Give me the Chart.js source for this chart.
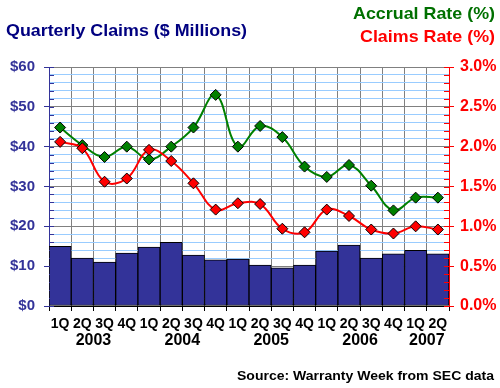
<!DOCTYPE html>
<html>
<head>
<meta charset="utf-8">
<script src="https://cdn.jsdelivr.net/npm/chart.js@4.4.0/dist/chart.umd.min.js"></script>
<style>
  html, body { margin: 0; padding: 0; background: #fff; }
  #wrap { position: relative; width: 500px; height: 388px; }
</style>
</head>
<body>
<div id="wrap"><canvas id="chart" width="500" height="388"></canvas></div>
<script>
// data
var quarters = ['1Q','2Q','3Q','4Q','1Q','2Q','3Q','4Q','1Q','2Q','3Q','4Q','1Q','2Q','3Q','4Q','1Q','2Q'];
var quarterYear = ['2003','2003','2003','2003','2004','2004','2004','2004','2005','2005','2005','2005','2006','2006','2006','2006','2007','2007'];
var years = ['2003','2004','2005','2006','2007'];
var claims = [15.0, 12.0, 11.0, 13.3, 14.8, 16.0, 12.8, 11.6, 11.8, 10.3, 9.6, 10.3, 13.8, 15.3, 12.0, 13.1, 14.0, 13.1];
var accrualRate = [2.24, 2.02, 1.87, 2.00, 1.84, 2.00, 2.24, 2.65, 2.00, 2.26, 2.12, 1.75, 1.62, 1.77, 1.51, 1.20, 1.36, 1.36];
var claimsRate = [2.06, 1.98, 1.56, 1.60, 1.96, 1.82, 1.54, 1.21, 1.29, 1.28, 0.97, 0.925, 1.21, 1.13, 0.96, 0.91, 1.00, 0.96];

var NAVY = '#333399';
var GREEN = '#008000';
var RED = '#FF0000';
var FONT = '"Liberation Sans", Arial, sans-serif';

// draws text squeezed/stretched to a given width
function fitText(ctx, txt, x, y, w, align) {
    var m = ctx.measureText(txt).width;
    var sx = w / m;
    ctx.save();
    ctx.textAlign = 'left';
    var left = align === 'right' ? x - w : x;
    ctx.translate(left, y);
    ctx.scale(sx, 1);
    ctx.fillText(txt, 0, 0);
    ctx.restore();
}

var textPlugin = {
    id: 'texts',
    afterDraw: function (chart) {
        var ctx = chart.ctx;
        var x = chart.scales.x;
        ctx.save();
        ctx.textBaseline = 'middle';

        // year labels under the quarters
        ctx.fillStyle = '#000';
        ctx.font = 'bold 16px ' + FONT;
        ctx.textAlign = 'center';
        years.forEach(function (yr) {
            var xs = [];
            quarterYear.forEach(function (q, i) {
                if (q === yr) xs.push(x.getPixelForValue(i));
            });
            var cx = (xs[0] + xs[xs.length - 1]) / 2;
            ctx.fillText(yr, cx, 341);
        });

        // titles
        ctx.fillStyle = '#000080';
        ctx.font = 'bold 17px ' + FONT;
        fitText(ctx, 'Quarterly Claims ($ Millions)', 6, 31, 241, 'left');

        ctx.font = 'bold 17px ' + FONT;
        ctx.fillStyle = '#007000';
        fitText(ctx, 'Accrual Rate (%)', 495, 14, 142, 'right');
        ctx.fillStyle = RED;
        fitText(ctx, 'Claims Rate (%)', 495, 37, 135, 'right');

        ctx.fillStyle = '#000';
        ctx.font = 'bold 13px ' + FONT;
        fitText(ctx, 'Source: Warranty Week from SEC data', 494, 376, 257, 'right');

        // inward minor ticks on both value axes
        var yl = chart.scales.y, yr2 = chart.scales.y2;
        ctx.lineWidth = 1;
        ctx.strokeStyle = NAVY;
        yl.ticks.forEach(function (t) {
            var py = Math.round(yl.getPixelForValue(t.value)) + 0.5;
            ctx.beginPath();
            ctx.moveTo(yl.right, py);
            ctx.lineTo(yl.right + 5, py);
            ctx.stroke();
        });
        ctx.strokeStyle = RED;
        yr2.ticks.forEach(function (t) {
            var py = Math.round(yr2.getPixelForValue(t.value)) + 0.5;
            ctx.beginPath();
            ctx.moveTo(yr2.left, py);
            ctx.lineTo(yr2.left - 5, py);
            ctx.stroke();
        });
        ctx.restore();
    }
};

var ctx = document.getElementById('chart');
var chart = new Chart(ctx, {
    type: 'bar',
    data: {
        labels: quarters,
        datasets: [{
            type: 'line',
            label: 'Claims Rate',
            data: claimsRate,
            yAxisID: 'y2',
            borderColor: RED,
            borderWidth: 2,
            tension: 0.4,
            pointStyle: 'rectRot',
            pointRadius: 5.5,
            pointBackgroundColor: RED,
            pointBorderColor: '#000',
            pointBorderWidth: 1,
            order: 0
        }, {
            type: 'line',
            label: 'Accrual Rate',
            data: accrualRate,
            yAxisID: 'y2',
            borderColor: GREEN,
            borderWidth: 2,
            tension: 0.4,
            pointStyle: 'rectRot',
            pointRadius: 5.5,
            pointBackgroundColor: GREEN,
            pointBorderColor: '#000',
            pointBorderWidth: 1,
            order: 1
        }, {
            type: 'bar',
            label: 'Quarterly Claims',
            data: claims,
            yAxisID: 'y',
            backgroundColor: NAVY,
            borderColor: '#000',
            borderWidth: 1,
            borderSkipped: false,
            categoryPercentage: 1,
            barPercentage: 1,
            order: 2
        }]
    },
    options: {
        responsive: false,
        animation: false,
        layout: { padding: { top: 67, left: 0, right: 0, bottom: 0 } },
        plugins: { legend: { display: false }, tooltip: { enabled: false } },
        scales: {
            x: {
                offset: true,
                grid: { offset: true, color: '#808080', tickColor: '#000', tickLength: 5 },
                border: { color: '#000' },
                ticks: {
                    color: '#000',
                    font: { family: FONT, size: 14, weight: 'bold' },
                    maxRotation: 0, autoSkip: false, padding: 5
                },
                afterFit: function (s) { s.height = 82; }
            },
            y: {
                position: 'left',
                min: 0, max: 60,
                grid: {
                    color: function (c) { return c.tick.value % 10 === 0 ? '#808080' : '#99CCFF'; },
                    tickColor: function (c) { return c.tick.value % 10 === 0 ? NAVY : 'rgba(0,0,0,0)'; },
                    tickLength: 5
                },
                border: { color: NAVY },
                ticks: {
                    stepSize: 2,
                    autoSkip: false,
                    color: NAVY,
                    padding: 9,
                    font: { family: FONT, size: 15, weight: 'bold' },
                    callback: function (v) { return v % 10 === 0 ? '$' + v : ''; }
                },
                afterFit: function (s) { s.width = 49; }
            },
            y2: {
                position: 'right',
                min: 0, max: 3,
                grid: {
                    drawOnChartArea: false,
                    tickColor: function (c) { return Math.round(c.tick.value * 10) % 5 === 0 ? RED : 'rgba(0,0,0,0)'; },
                    tickLength: 5
                },
                border: { color: RED },
                ticks: {
                    stepSize: 0.1,
                    autoSkip: false,
                    color: RED,
                    padding: 6,
                    font: { family: FONT, size: 16, weight: 'bold' },
                    callback: function (v) {
                        return Math.round(v * 10) % 5 === 0 ? v.toFixed(1) + '%' : '';
                    }
                },
                afterFit: function (s) { s.width = 51; }
            }
        }
    },
    plugins: [textPlugin]
});
</script>
</body>
</html>
